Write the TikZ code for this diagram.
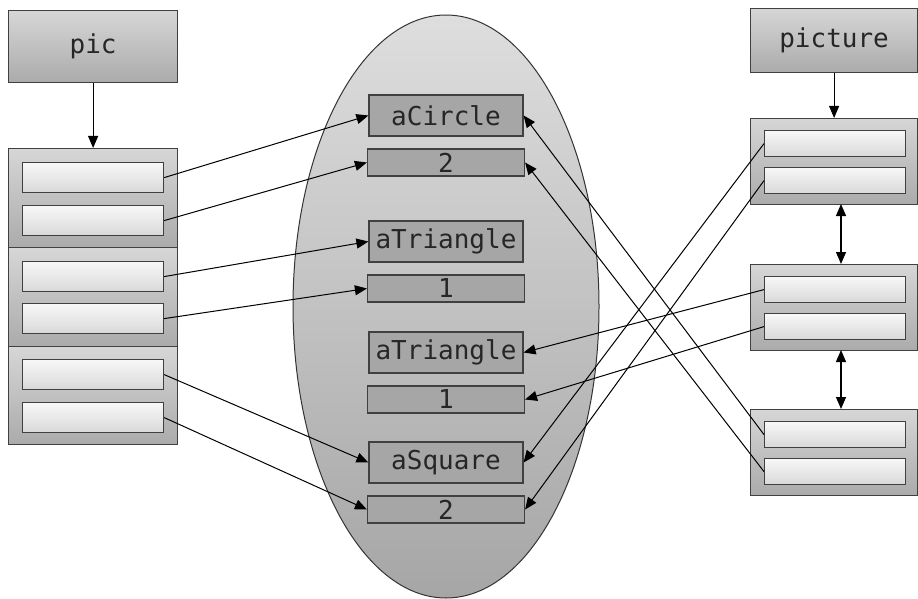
\documentclass[tikz,border=0pt]{standalone}
\usepackage{fontspec}
\setmonofont{DejaVu Sans Mono}
\usetikzlibrary{arrows.meta}
\tikzset{
  outerbox/.style={draw=black!75, line width=1.2pt, top color=black!16, bottom color=black!33, inner sep=0pt, anchor=north west},
  innerbox/.style={draw=black!75, line width=1.2pt, top color=black!3, bottom color=black!15, inner sep=0pt, anchor=north west, minimum width=141pt, minimum height=30pt},
  rinnerbox/.style={innerbox, minimum height=26pt},
  valbox/.style={draw=black!75, line width=1.2pt, fill=black!35, inner sep=0pt, font=\ttfamily\fontsize{26}{30}\selectfont, text=black!85},
  namebox/.style={valbox, minimum width=154pt, minimum height=41pt},
  numbox/.style={valbox, minimum width=157pt, minimum height=27pt},
  titlebox/.style={outerbox},
  titletext/.style={font=\ttfamily\fontsize{26}{30}\selectfont, text=black!85},
  conn/.style={line width=1pt, -{Triangle[length=12pt,width=10pt]}},
  dconn/.style={line width=1.3pt, {Triangle[length=12pt,width=10pt]}-{Triangle[length=12pt,width=10pt]}}
}
\begin{document}
\begin{tikzpicture}[x=1pt,y=-1pt]
\useasboundingbox (0,0) rectangle (918,599);
% ellipse
\path[draw=black!80, line width=1pt, top color=black!13, bottom color=black!35] (446,306.5) ellipse [x radius=153, y radius=291.5];
% left side
\node[titlebox, minimum width=169pt, minimum height=72pt] (pic) at (8,10) {};
\node[titletext] (pictxt) at (pic.center) {pic};
\node[outerbox, minimum width=169pt, minimum height=99pt] (lo1) at (8,148) {};
\node[outerbox, minimum width=169pt, minimum height=99pt] (lo2) at (8,247) {};
\node[outerbox, minimum width=169pt, minimum height=98pt] (lo3) at (8,346) {};
\node[innerbox] (l1) at (22,162) {};
\node[innerbox] (l2) at (22,205) {};
\node[innerbox] (l3) at (22,261) {};
\node[innerbox] (l4) at (22,303) {};
\node[innerbox] (l5) at (22,359) {};
\node[innerbox] (l6) at (22,402) {};
\draw[conn] (pic.south) -- (lo1.north);
% center
\node[namebox] (c1) at (446,115.5) {aCircle};
\node[numbox] (c2) at (446,162.5) {2};
\node[namebox] (c3) at (446,241.5) {aTriangle};
\node[numbox] (c4) at (446,288.5) {1};
\node[namebox] (c5) at (446,352.5) {aTriangle};
\node[numbox] (c6) at (446,399.5) {1};
\node[namebox] (c7) at (446,462.5) {aSquare};
\node[numbox] (c8) at (446,509.5) {2};
% right side
\node[titlebox, minimum width=167pt, minimum height=64pt] (picture) at (750,8) {};
\node[titletext] (picturetxt) at (picture.center) {picture};
\node[outerbox, minimum width=167pt, minimum height=86pt] (ro1) at (750,118) {};
\node[outerbox, minimum width=167pt, minimum height=86pt] (ro2) at (750,264) {};
\node[outerbox, minimum width=167pt, minimum height=86pt] (ro3) at (750,409) {};
\node[rinnerbox] (r1) at (764,130) {};
\node[rinnerbox] (r2) at (764,167) {};
\node[rinnerbox] (r3) at (764,276) {};
\node[rinnerbox] (r4) at (764,313) {};
\node[rinnerbox] (r5) at (764,421) {};
\node[rinnerbox] (r6) at (764,458) {};
\draw[conn] (picture.south) -- (ro1.north);
\coordinate (d1a) at (841,204);
\coordinate (d1b) at (841,264);
\coordinate (d2a) at (841,350);
\coordinate (d2b) at (841,409);
\draw[dconn] (d1a) -- (d1b);
\draw[dconn] (d2a) -- (d2b);
% connectors left
\draw[conn] (l1.east) -- (c1.west);
\draw[conn] (l2.east) -- (c2.west);
\draw[conn] (l3.east) -- (c3.west);
\draw[conn] (l4.east) -- (c4.west);
\draw[conn] (l5.east) -- (c7.west);
\draw[conn] (l6.east) -- (c8.west);
% connectors right
\draw[conn] (r1.west) -- (c7.east);
\draw[conn] (r2.west) -- (c8.east);
\draw[conn] (r3.west) -- (c5.east);
\draw[conn] (r4.west) -- (c6.east);
\draw[conn] (r5.west) -- (c1.east);
\draw[conn] (r6.west) -- (c2.east);
\end{tikzpicture}
\end{document}
